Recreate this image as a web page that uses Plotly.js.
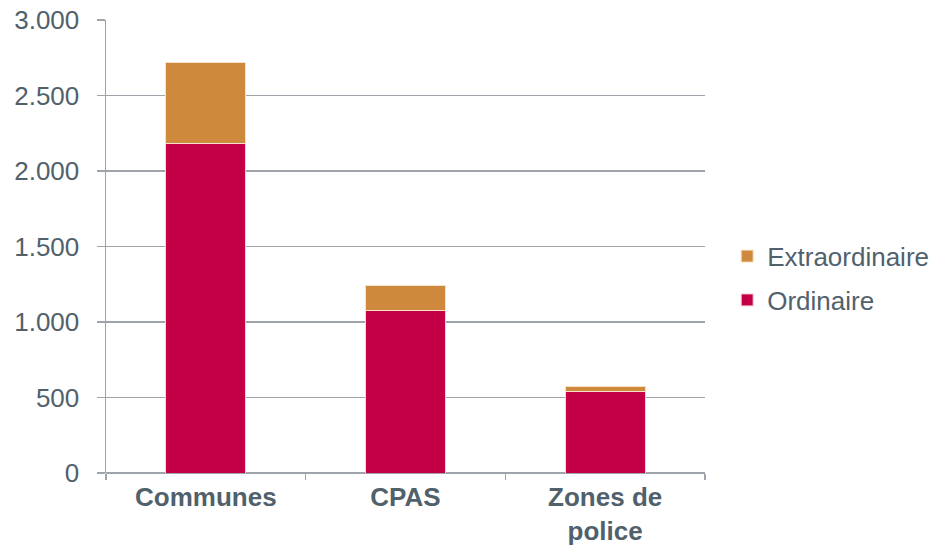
<!DOCTYPE html>
<html>
<head>
<meta charset="utf-8">
<script src="https://cdn.plot.ly/plotly-3.0.1.min.js"></script>
<style>html,body{margin:0;padding:0;background:#fff;}#chart{width:946px;height:549px;}</style>
</head>
<body>
<div id="chart"></div>
<script>
const categories = ["Communes", "CPAS", "Zones de<br>police"];
const ordinaire = [2179, 1073, 543];
const extraordinaire = [540, 167, 27];
const seriesNames = ["Ordinaire", "Extraordinaire"];
const yTicks = [0, 500, 1000, 1500, 2000, 2500, 3000];

const textColor = "#51616c";
const gridColor = "#9ea4a9";
const fontFamily = "Liberation Sans, Arial, sans-serif";

const traces = [
  {
    type: "bar", name: seriesNames[0], x: categories, y: ordinaire,
    marker: {color: "#C30045", line: {color: "#f3d3dc", width: 1}},
    legendgroup: "ord", legendrank: 2, hoverinfo: "skip"
  },
  {
    type: "bar", name: seriesNames[1], x: categories, y: extraordinaire,
    marker: {color: "#CE893D", line: {color: "#f6e2cc", width: 1}},
    legendgroup: "ext", legendrank: 1, hoverinfo: "skip"
  }
];

const layout = {
  width: 946, height: 549,
  margin: {l: 106, r: 241, t: 20, b: 76},
  paper_bgcolor: "#fff", plot_bgcolor: "#fff",
  barmode: "stack",
  bargap: 0.6,
  separators: ",.",
  font: {family: fontFamily, color: textColor, size: 26},
  showlegend: true,
  legend: {
    x: 1.037, xanchor: "left", y: 0.43, yanchor: "middle",
    traceorder: "grouped", tracegroupgap: 7,
    font: {size: 26, color: textColor, family: fontFamily},
    itemwidth: 30
  },
  xaxis: {
    type: "category",
    tickson: "boundaries", ticks: "outside", ticklen: 6, tickcolor: gridColor, tickwidth: 1.5,
    ticklabelstandoff: 6,
    showline: false, showgrid: false, zeroline: false,
    tickfont: {size: 26, color: textColor, family: fontFamily, weight: "bold"},
    fixedrange: true
  },
  yaxis: {
    range: [0, 3000], tickvals: yTicks, tickformat: ",d",
    showgrid: true, gridcolor: gridColor, gridwidth: 1.5,
    showline: true, linecolor: gridColor, linewidth: 1.5,
    ticks: "outside", ticklen: 8, tickcolor: gridColor, tickwidth: 1.5,
    ticklabelstandoff: 12,
    zeroline: true, zerolinecolor: gridColor, zerolinewidth: 1.5,
    tickfont: {size: 26, color: textColor, family: fontFamily},
    fixedrange: true
  }
};

Plotly.newPlot("chart", traces, layout, {displayModeBar: false, staticPlot: true});
</script>
</body>
</html>
